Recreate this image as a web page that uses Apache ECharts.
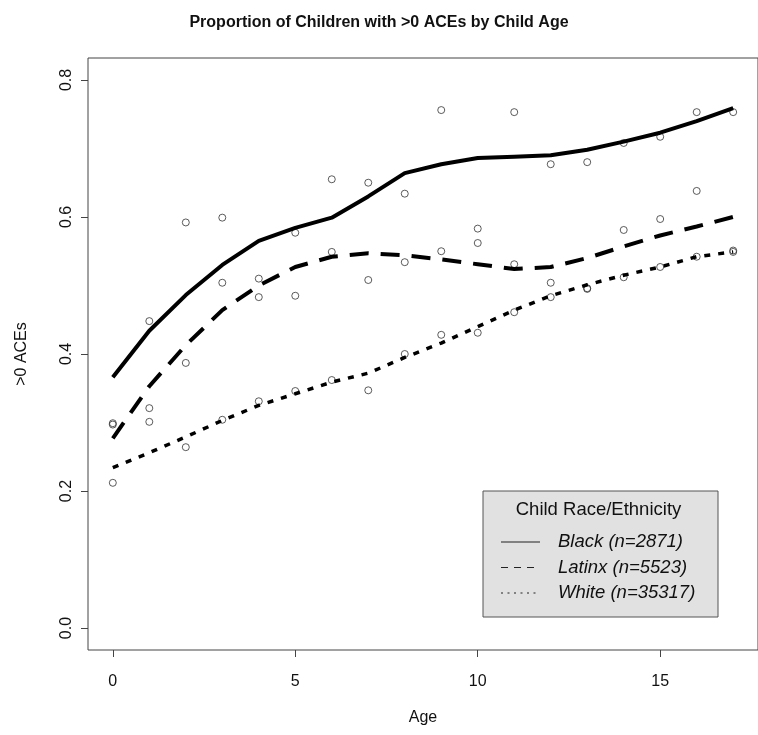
<!DOCTYPE html>
<html>
<head>
<meta charset="utf-8">
<script src="https://cdn.jsdelivr.net/npm/echarts@6/dist/echarts.min.js"></script>
<style>
html,body{margin:0;padding:0;background:#fff;}
#chart{width:758px;height:735px;}
</style>
</head>
<body>
<div id="chart"></div>
<script>
const ages = [0,1,2,3,4,5,6,7,8,9,10,11,12,13,14,15,16,17];
const blackPts  = [0.299,0.448,0.592,0.599,0.510,0.577,0.655,0.650,0.634,0.756,0.583,0.753,0.677,0.680,0.708,0.717,0.753,0.753];
const latinxPts = [0.297,0.321,0.387,0.504,0.483,0.485,0.549,0.508,0.534,0.550,0.562,0.531,0.504,0.496,0.581,0.597,0.638,0.551];
const whitePts  = [0.212,0.301,0.264,0.304,0.331,0.346,0.362,0.347,0.400,0.428,0.431,0.461,0.483,0.495,0.512,0.527,0.542,0.549];
const blackFit  = [0.366,0.434,0.486,0.530,0.565,0.584,0.599,0.630,0.664,0.677,0.686,0.688,0.690,0.698,0.710,0.723,0.740,0.759];
const latinxFit = [0.277,0.353,0.413,0.464,0.500,0.527,0.542,0.547,0.544,0.538,0.531,0.524,0.527,0.540,0.557,0.573,0.586,0.600];
const whiteFit  = [0.234,0.256,0.279,0.303,0.325,0.342,0.359,0.372,0.395,0.416,0.440,0.464,0.485,0.501,0.515,0.527,0.542,0.549];
const xTicks = [0,5,10,15];
const yTicks = [0,0.2,0.4,0.6,0.8];
const seriesNames = ['Black (n=2871)','Latinx (n=5523)','White (n=35317)'];
const legendTitle = 'Child Race/Ethnicity';
const chartTitle = 'Proportion of Children with >0 ACEs by Child Age';
const xName = 'Age';
const yName = '>0 ACEs';

const pair = (ys) => ages.map((a,i)=>[a, ys[i]]);
const sans = '"Liberation Sans",Arial,sans-serif';

const chart = echarts.init(document.getElementById('chart'), null, {renderer:'canvas'});

const ptStyle = {symbol:'circle', symbolSize:7, itemStyle:{color:'rgba(0,0,0,0)', borderColor:'#333', borderWidth:1}};
const lineStyles = [
  {color:'#000', width:4, type:'solid'},
  {color:'#000', width:4, type:[19,12], cap:'butt'},
  {color:'#000', width:3.5, type:[6,8], cap:'butt'}
];
const legendDash = ['solid', [7,6], [2,4.5]];

const lx = 483, ly = 491, lw = 235, lh = 126;
const legendChildren = [
  {type:'rect', shape:{x:lx, y:ly, width:lw, height:lh}, style:{fill:'#e1e1e1', stroke:'#555', lineWidth:1}},
  {type:'text', x:lx+lw/2-2, y:ly+19, style:{text:legendTitle, font:'18.5px '+sans, fill:'#111', align:'center', verticalAlign:'middle'}}
];
seriesNames.forEach((n,i)=>{
  const yy = ly + 51 + i*25.5;
  legendChildren.push({type:'line', shape:{x1:lx+18, y1:yy, x2:lx+57, y2:yy}, style:{stroke:'#222', lineWidth:1.2, lineDash: legendDash[i]==='solid'?null:legendDash[i]}});
  legendChildren.push({type:'text', x:lx+75, y:yy, style:{text:n, font:'italic 18.5px '+sans, fill:'#111', align:'left', verticalAlign:'middle'}});
});

chart.setOption({
  animation:false,
  backgroundColor:'#fff',
  title:{text:chartTitle, left:'center', top:10, textStyle:{fontFamily:sans, fontWeight:'bold', fontSize:16, color:'#111'}},
  grid:{left:88, top:58, width:679, height:592, show:true, borderColor:'#444', borderWidth:1, backgroundColor:'transparent'},
  xAxis:{type:'value', min:-0.68, max:17.68, name:xName, nameLocation:'middle', nameGap:60,
    nameTextStyle:{fontFamily:sans, fontSize:16, color:'#111'},
    axisLine:{show:false, onZero:false}, splitLine:{show:false},
    axisTick:{show:true, length:7, lineStyle:{color:'#444'}, customValues:xTicks},
    axisLabel:{fontFamily:sans, fontSize:16, color:'#111', margin:24, customValues:xTicks}},
  yAxis:{type:'value', min:-0.032, max:0.832, name:yName, nameLocation:'middle', nameGap:58, nameRotate:90,
    nameTextStyle:{fontFamily:sans, fontSize:16, color:'#111'},
    axisLine:{show:false, onZero:false}, splitLine:{show:false},
    axisTick:{show:true, length:7, lineStyle:{color:'#444'}, customValues:yTicks},
    axisLabel:{fontFamily:sans, fontSize:16, color:'#111', margin:13, rotate:90, customValues:yTicks, formatter:(v)=>v.toFixed(1)}},
  series:[
    Object.assign({type:'scatter', name:'bp', data:pair(blackPts), z:2}, ptStyle),
    Object.assign({type:'scatter', name:'lp', data:pair(latinxPts), z:2}, ptStyle),
    Object.assign({type:'scatter', name:'wp', data:pair(whitePts), z:2}, ptStyle),
    {type:'line', name:seriesNames[0], data:pair(blackFit), showSymbol:false, smooth:false, lineStyle:lineStyles[0], z:3},
    {type:'line', name:seriesNames[1], data:pair(latinxFit), showSymbol:false, smooth:false, lineStyle:lineStyles[1], z:3},
    {type:'line', name:seriesNames[2], data:pair(whiteFit), showSymbol:false, smooth:false, lineStyle:lineStyles[2], z:3}
  ],
  graphic:[{type:'group', z:100, children:legendChildren}]
});
</script>
</body>
</html>
